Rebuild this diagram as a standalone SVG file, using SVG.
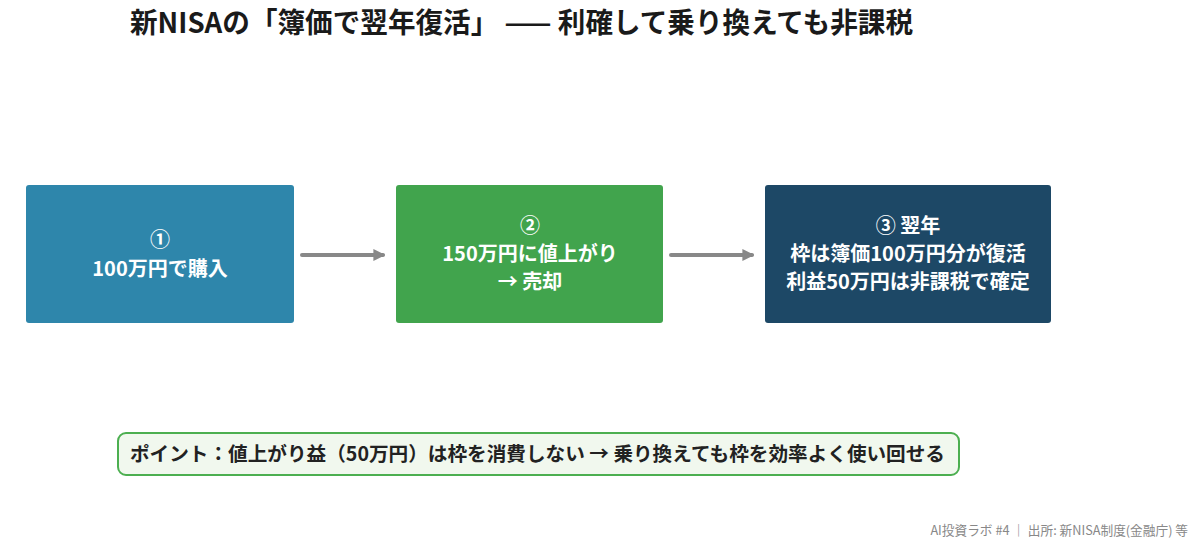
<svg xmlns="http://www.w3.org/2000/svg" width="1200" height="549" viewBox="0 0 1200 549">
<defs>
<style>
text{font-family:"Noto Sans CJK JP","Noto Sans",sans-serif}
.t{font-size:28px;font-weight:700;fill:#1a1a1a}
.n{font-size:20px;font-weight:700;fill:#fff;text-anchor:middle}
.p{font-size:19.5px;font-weight:700;fill:#222}
.f{font-size:12.7px;fill:#888;text-anchor:end}
.c{stroke:#888;stroke-width:4;fill:none;stroke-linecap:round}
</style>
<marker id="ah" viewBox="0 0 10 10" refX="8" refY="5" markerWidth="3" markerHeight="3" orient="auto"><path d="M0,0 L10,5 L0,10 z" fill="#888"/></marker>
</defs>
<rect width="1200" height="549" fill="#fff"/>
<text class="t" x="130" y="33" textLength="783" lengthAdjust="spacingAndGlyphs">新NISAの「簿価で翌年復活」 —— 利確して乗り換えても非課税</text>
<g id="connectors">
<line class="c" x1="302" y1="255" x2="383" y2="255" marker-end="url(#ah)"/>
<line class="c" x1="671" y1="255" x2="752" y2="255" marker-end="url(#ah)"/>
</g>
<g id="node1">
<rect x="26" y="185" width="268" height="138" rx="3" fill="#2E86AB"/>
<text class="n" x="160" y="247">①</text>
<text class="n" x="160" y="276">100万円で購入</text>
</g>
<g id="node2">
<rect x="396" y="185" width="267" height="138" rx="3" fill="#41A44D"/>
<text class="n" x="530" y="233">②</text>
<text class="n" x="530" y="261">150万円に値上がり</text>
<text class="n" x="530" y="289">→ 売却</text>
</g>
<g id="node3">
<rect x="765" y="185" width="286" height="138" rx="3" fill="#1D4866"/>
<text class="n" x="908" y="233">③ 翌年</text>
<text class="n" x="908" y="261">枠は簿価100万円分が復活</text>
<text class="n" x="908" y="289">利益50万円は非課税で確定</text>
</g>
<g id="point">
<rect x="118" y="433" width="841" height="42" rx="8" fill="#F1F8EE" stroke="#4CAF50" stroke-width="2"/>
<text class="p" x="130" y="461" textLength="815" lengthAdjust="spacingAndGlyphs">ポイント：値上がり益（50万円）は枠を消費しない → 乗り換えても枠を効率よく使い回せる</text>
</g>
<text class="f" x="1188" y="535">AI投資ラボ #4 ｜ 出所: 新NISA制度(金融庁) 等</text>
</svg>
